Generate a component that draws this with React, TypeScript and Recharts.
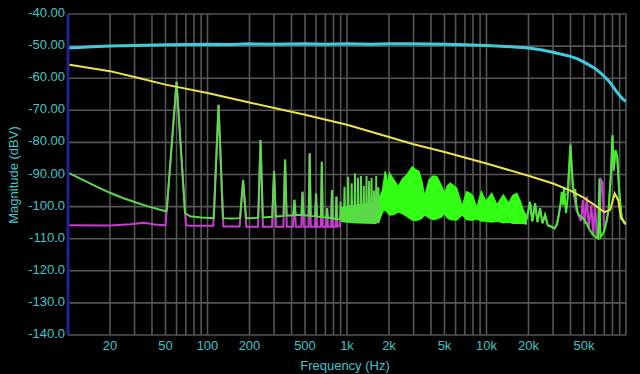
import React from "react";
import { ComposedChart, Line, Area, XAxis, YAxis, CartesianGrid, Label } from "recharts";

// x grid lines (log decades) and the few that carry a label
const xGridTicks = [
  20, 30, 40, 50, 60, 70, 80, 90, 100,
  200, 300, 400, 500, 600, 700, 800, 900, 1000,
  2000, 3000, 4000, 5000, 6000, 7000, 8000, 9000, 10000,
  20000, 30000, 40000, 50000, 60000, 70000, 80000, 90000, 100000,
];
const xLabelTicks = [20, 50, 100, 200, 500, 1000, 2000, 5000, 10000, 20000, 50000];
const xLabelText = ["20", "50", "100", "200", "500", "1k", "2k", "5k", "10k", "20k", "50k"];

const yTicks = [-140, -130, -120, -110, -100, -90, -80, -70, -60, -50, -40];
const yLabelText = ["-140.0", "-130.0", "-120.0", "-110.0", "-100.0", "-90.00", "-80.00", "-70.00", "-60.00", "-50.00", "-40.00"];

type Pt = [number, number | null];

// [frequency Hz, dBV]
const cyanPts: Pt[] = [
  [10, -50.6], [12, -50.4], [15, -50.2], [20, -50.0], [30, -49.8], [50, -49.6], [70, -49.5],
  [100, -49.4], [150, -49.5], [200, -49.3], [300, -49.4], [500, -49.3], [700, -49.4], [1000, -49.3],
  [1500, -49.4], [2000, -49.3], [3000, -49.3], [5000, -49.4], [7000, -49.6], [10000, -49.8],
  [15000, -50.2], [20000, -50.6], [25000, -51.2], [30000, -51.9], [35000, -52.6], [40000, -53.2],
  [45000, -54.0], [50000, -55.0], [55000, -56.0], [60000, -57.0], [65000, -58.2], [70000, -59.5],
  [75000, -60.8], [80000, -62.4], [85000, -64.0], [90000, -65.4], [95000, -66.5], [100000, -67.3],
];

const yellowPts: Pt[] = [
  [10, -55.7], [20, -57.8], [30, -59.6], [50, -62.0], [100, -64.6], [200, -67.6], [500, -71.4],
  [1000, -74.5], [2000, -78.3], [3000, -80.6], [5000, -83.0], [10000, -86.6], [20000, -90.4],
  [30000, -92.8], [40000, -95.0], [50000, -97.3], [60000, -99.6], [70000, -101.7], [77000, -101.0],
  [83000, -95.9], [88000, -98.0], [92000, -103.6], [100000, -105.4],
];

// green: noise floor + mains harmonics up to ~1.7 kHz
const greenLowPts: Pt[] = [
  [10, -89.4], [13, -91.8], [16, -93.8], [20, -95.7], [25, -97.4], [31, -98.8], [38, -100.0], [45, -100.9], [50, -101.4],
  [51, -101.3], [60, -61.1], [69, -102.0], [75, -103.0], [90, -103.4], [111, -103.6],
  [120, -68.3], [129, -103.6], [150, -103.7], [171, -103.6],
  [180, -91.7], [189, -103.6], [231, -103.5],
  [240, -79.3], [249, -103.4], [291, -103.2],
  [300, -88.9], [309, -103.1], [351, -102.9],
  [360, -85.3], [369, -102.8], [411, -102.7],
  [420, -97.9], [429, -102.6], [471, -102.6],
  [480, -95.4], [489, -102.7], [531, -102.8],
  [540, -83.4], [549, -102.9], [591, -103.0],
  [600, -95.9], [609, -103.1], [651, -103.2],
  [660, -86.0], [669, -103.3], [711, -103.4],
  [720, -100.5], [729, -103.5], [771, -103.6],
  [780, -94.8], [789, -103.7], [831, -103.8],
  [840, -96.9], [849, -103.9], [891, -104.0],
  [900, -98.5], [909, -104.0], [951, -104.1],
  [960, -93.8], [969, -104.1], [1011, -104.2],
  [1020, -90.7], [1029, -104.2], [1071, -104.3],
  [1080, -92.7], [1089, -104.3], [1131, -104.4],
  [1140, -89.6], [1149, -104.4], [1191, -104.5],
  [1200, -91.0], [1209, -104.5], [1251, -104.5],
  [1260, -90.5], [1269, -104.5], [1311, -104.6],
  [1320, -93.5], [1329, -104.6], [1371, -104.6],
  [1380, -90.5], [1389, -104.7], [1431, -104.7],
  [1440, -92.0], [1449, -104.7], [1491, -104.8],
  [1500, -91.0], [1509, -104.8], [1551, -104.8],
  [1560, -95.0], [1569, -104.8], [1611, -104.9],
  [1620, -90.5], [1629, -104.9], [1671, -104.9],
  [1680, -94.0], [1689, -105.0],
];

// dense part of the green trace, drawn as a band [freq, low, high]
const greenBand: [number, number, number][] = [
  [900, -104.6, -100.5], [1000, -104.8, -100.0], [1200, -105.0, -99.5], [1400, -105.1, -99.0],
  [1600, -105.2, -98.5], [1700, -104.5, -97.5], [1800, -101.5, -95.0], [1880, -101.0, -89.0],
  [1950, -101.8, -93.0], [2020, -102.6, -89.6], [2150, -102.5, -91.5], [2330, -101.6, -93.8],
  [2500, -102.2, -91.5], [2680, -103.0, -90.2], [2940, -104.2, -87.6], [3100, -104.3, -88.5],
  [3280, -104.0, -89.1], [3450, -103.5, -92.5], [3600, -102.5, -96.9], [3880, -103.5, -91.7],
  [4150, -104.0, -90.5], [4400, -103.8, -90.7], [4750, -103.2, -93.5], [5000, -102.0, -95.9],
  [5250, -103.5, -93.5], [5500, -104.0, -92.7], [6100, -104.2, -94.3], [6700, -102.5, -100.0],
  [7200, -104.0, -95.4], [7700, -104.2, -96.0], [8000, -104.2, -96.9], [8500, -103.8, -100.5],
  [9200, -104.5, -95.4], [9900, -104.5, -98.5], [10900, -104.8, -95.9], [11900, -104.5, -99.5],
  [13200, -105.0, -96.4], [14400, -104.8, -99.0], [15500, -105.2, -96.5], [16500, -105.2, -95.9],
  [17500, -105.2, -98.5], [18500, -105.3, -101.6], [19500, -105.4, -103.0],
];

const greenHighPts: Pt[] = [
  [19000, -104.8], [19500, -103.5], [20500, -98.5], [21300, -104.6], [22300, -99.0], [23200, -104.8],
  [24200, -100.5], [25200, -105.2], [26300, -102.6], [27500, -105.8], [29000, -106.2], [30800, -106.8],
  [32000, -105.5], [32800, -103.1], [34000, -99.0], [34600, -95.4], [35300, -99.5], [36000, -94.0],
  [36600, -99.0], [37200, -102.0], [38200, -97.0], [39200, -88.0], [40000, -80.8], [40800, -88.0],
  [41800, -93.8], [42800, -97.0], [43300, -94.5], [44000, -99.5], [45500, -102.5], [47500, -103.0],
  [50000, -104.0], [52500, -105.5], [55000, -107.3], [58000, -108.8], [60000, -109.4], [63000, -109.9],
  [64500, -91.2], [65500, -109.6], [68000, -108.6], [70000, -107.3], [72500, -104.5], [75000, -101.0],
  [78000, -89.6], [80000, -77.7], [81600, -88.6], [84000, -82.4], [86500, -84.4], [89700, -95.9],
  [93000, -103.1], [97000, -105.0], [100000, -105.5],
];

// magenta sits under the green; only its floor and a few spikes show (null = hidden under the band)
const magentaPts: Pt[] = [
  [10, -105.8], [20, -105.9], [28, -105.5], [35, -105.0], [42, -105.6], [49, -105.8],
  [50, -105.8], [60, -61.1], [70, -105.8], [75, -106.0], [110, -106.0],
  [120, -68.3], [130, -106.2], [170, -106.2],
  [180, -91.7], [190, -106.3], [230, -106.3],
  [240, -79.3], [250, -106.3], [290, -106.3],
  [300, -88.9], [310, -106.3], [350, -106.3],
  [360, -85.3], [370, -106.3], [410, -106.3],
  [420, -97.9], [430, -106.3], [470, -106.3],
  [480, -95.4], [490, -106.3], [530, -106.3],
  [540, -83.4], [550, -106.3], [590, -106.3],
  [600, -95.9], [610, -106.3], [650, -106.3],
  [660, -86.0], [670, -106.3], [710, -106.3],
  [720, -100.5], [730, -106.3], [770, -106.3],
  [780, -94.8], [790, -106.3], [830, -106.2],
  [840, -96.9], [850, -106.2], [890, -106.0],
  [900, -103.0], [2000, null],
  [19000, -104.8], [19500, -103.5], [20500, -98.5], [21300, -104.6], [22300, -99.0], [23200, -104.8],
  [24200, -100.5], [25200, -105.2], [26300, -102.6], [27500, -105.8], [29000, -106.2], [30800, -106.8],
  [32000, -105.5], [32800, -103.1], [34000, -99.0],
  [35000, -97.0], [38000, -96.0], [40000, -80.3], [41500, -94.0], [44000, -101.0], [47500, -104.5],
  [49000, -98.0], [50500, -105.5], [52500, -96.9], [54000, -106.8], [56500, -99.5], [58000, -108.5],
  [60000, -99.5], [62000, -109.5], [64000, -108.0], [66500, -91.7], [68000, -92.5], [69500, -107.5],
  [72500, -104.8], [75000, -101.2], [78000, -90.0], [80000, -78.0], [81600, -89.0], [84000, -82.8],
  [86500, -84.8], [89700, -96.3], [93000, -103.5], [97000, -105.2], [100000, -105.6],
];

const TEXT = "#40c4cc";
const FONT = "'Liberation Sans', Arial, Helvetica, sans-serif";

const rows = (pts: Pt[]) => pts.map(([f, v]) => ({ f, v }));
const bandRows = greenBand.map(([f, lo, hi]) => ({ f, r: [lo, hi] }));

function XTick(props: any) {
  const { x, y, payload } = props;
  const i = xLabelTicks.indexOf(payload.value);
  if (i < 0) return <g />;
  return (
    <text x={x} y={y + 2} textAnchor="middle" dominantBaseline="central" fill={TEXT} fontSize={13} fontFamily={FONT}>
      {xLabelText[i]}
    </text>
  );
}

function YTick(props: any) {
  const { x, y, payload } = props;
  const i = yTicks.indexOf(payload.value);
  return (
    <text x={x} y={y - 1.5} textAnchor="end" dominantBaseline="central" fill={TEXT} fontSize={13} fontFamily={FONT}>
      {yLabelText[i]}
    </text>
  );
}

export default function App() {
  return (
    <div style={{ position: "absolute", left: 0, top: 0, width: 640, height: 374, background: "#000", fontFamily: FONT }}>
      <ComposedChart width={640} height={374} margin={{ top: 14, right: 14, bottom: 9, left: 8 }}>
        <CartesianGrid stroke="#555555" strokeWidth={1.6} />
        <XAxis
          dataKey="f"
          type="number"
          scale="log"
          domain={[10, 100000]}
          allowDataOverflow
          ticks={xGridTicks}
          interval={0}
          tick={<XTick />}
          tickLine={false}
          axisLine={false}
          tickSize={6}
          tickMargin={2}
          height={30}
        >
          <Label
            content={() => (
              <text x={345} y={365} textAnchor="middle" dominantBaseline="central" fill={TEXT} fontSize={13} fontFamily={FONT}>
                Frequency (Hz)
              </text>
            )}
          />
        </XAxis>
        <YAxis
          type="number"
          domain={[-140, -40]}
          allowDataOverflow
          ticks={yTicks}
          interval={0}
          tick={<YTick />}
          tickLine={false}
          tickSize={0}
          tickMargin={3}
          axisLine={{ stroke: "#1c2490", strokeWidth: 3 }}
          width={60}
        >
          <Label
            content={() => (
              <text x={13} y={175} transform="rotate(-90 13 175)" textAnchor="middle" dominantBaseline="central" fill={TEXT} fontSize={13} fontFamily={FONT}>
                Magnitude (dBV)
              </text>
            )}
          />
        </YAxis>
        <Line data={rows(magentaPts)} dataKey="v" stroke="#c83cd0" strokeWidth={2} dot={false} activeDot={false} connectNulls={false} isAnimationActive={false} />
        <Line data={rows(greenLowPts)} dataKey="v" stroke="#5cd84a" strokeWidth={2} dot={false} activeDot={false} isAnimationActive={false} />
        <Area data={bandRows} dataKey="r" stroke="#33ff14" strokeWidth={1.5} fill="#33ff14" fillOpacity={1} dot={false} activeDot={false} isAnimationActive={false} />
        <Line data={rows(greenHighPts)} dataKey="v" stroke="#44f02c" strokeWidth={2} dot={false} activeDot={false} isAnimationActive={false} />
        <Line data={rows(yellowPts)} dataKey="v" stroke="#ece24a" strokeWidth={2} dot={false} activeDot={false} isAnimationActive={false} />
        <Line data={rows(cyanPts)} dataKey="v" stroke="#3fcbdc" strokeWidth={3} dot={false} activeDot={false} isAnimationActive={false} />
      </ComposedChart>
    </div>
  );
}
